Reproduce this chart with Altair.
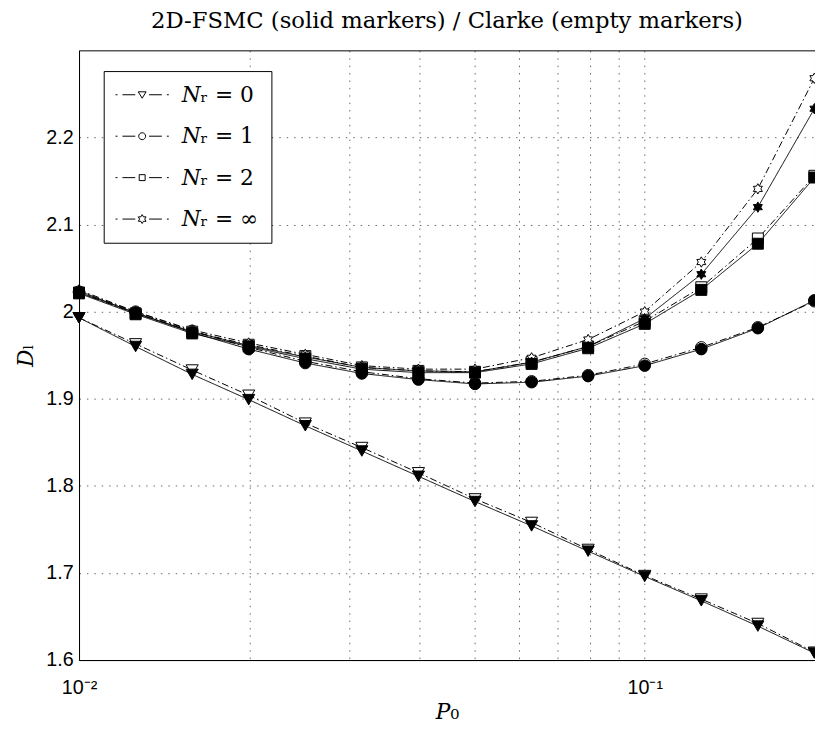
import altair as alt
import pandas as pd

# ---------------- data ----------------
P0 = [0.01, 0.01259, 0.01585, 0.01995, 0.02512, 0.03162, 0.03981,
      0.05012, 0.0631, 0.07943, 0.1, 0.1259, 0.1585, 0.1995]

NR_LABELS = ["𝑁ᵣ = 0", "𝑁ᵣ = 1", "𝑁ᵣ = 2", "𝑁ᵣ = ∞"]

# 2D-FSMC (solid markers, solid line)
fsmc_nr0 = [1.993, 1.960, 1.928, 1.899, 1.869, 1.840, 1.811, 1.782, 1.754, 1.725, 1.696, 1.668, 1.639, 1.608]
fsmc_nr1 = [2.022, 1.999, 1.976, 1.957, 1.941, 1.929, 1.922, 1.917, 1.919, 1.926, 1.938, 1.957, 1.981, 2.013]
fsmc_nr2 = [2.021, 1.997, 1.975, 1.960, 1.946, 1.934, 1.930, 1.930, 1.940, 1.958, 1.986, 2.025, 2.078, 2.154]
fsmc_inf = [2.024, 1.998, 1.977, 1.961, 1.948, 1.936, 1.932, 1.931, 1.942, 1.960, 1.992, 2.043, 2.120, 2.233]

# Clarke (empty markers, dash-dot line)
clarke_nr0 = [1.993, 1.963, 1.933, 1.904, 1.872, 1.844, 1.815, 1.785, 1.758, 1.727, 1.697, 1.670, 1.642, 1.609]
clarke_nr1 = [2.023, 2.000, 1.978, 1.959, 1.943, 1.931, 1.923, 1.918, 1.920, 1.927, 1.940, 1.959, 1.982, 2.012]
clarke_nr2 = [2.022, 1.998, 1.977, 1.962, 1.949, 1.936, 1.932, 1.931, 1.942, 1.960, 1.989, 2.028, 2.084, 2.156]
clarke_inf = [2.025, 2.000, 1.979, 1.964, 1.951, 1.938, 1.934, 1.934, 1.947, 1.968, 2.000, 2.057, 2.141, 2.268]

X_TICKS = [0.01, 0.02, 0.03, 0.04, 0.05, 0.06, 0.07, 0.08, 0.09, 0.1, 0.2]
Y_TICKS = [1.6, 1.7, 1.8, 1.9, 2.0, 2.1, 2.2]

TITLE = "2D-FSMC (solid markers) / Clarke (empty markers)"

# ---------------- table ----------------
rows = []
series = {
    "Clarke": [clarke_nr0, clarke_nr1, clarke_nr2, clarke_inf],
    "FSMC": [fsmc_nr0, fsmc_nr1, fsmc_nr2, fsmc_inf],
}
for model in ["Clarke", "FSMC"]:
    for lab, vals in zip(NR_LABELS, series[model]):
        for p, v in zip(P0, vals):
            rows.append({"P0": p, "Dl": v, "nr": lab, "model": model, "series": model + lab})
df = pd.DataFrame(rows)

# ---------------- marker shapes ----------------
STAR = ("M0,-1L0.289,-0.5L0.866,-0.5L0.577,0L0.866,0.5L0.289,0.5L0,1L-0.289,0.5"
        "L-0.866,0.5L-0.577,0L-0.866,-0.5L-0.289,-0.5Z")
DASHES = "M-27,0H-25M-20,0H-7M7,0H20M25,0H27"
LEG_PATHS = [
    DASHES + "M-4,-3L4,-3L0,3.5Z",
    DASHES + "M-3.5,0A3.5,3.5,0,1,0,3.5,0A3.5,3.5,0,1,0,-3.5,0Z",
    DASHES + "M-3,-3H3V3H-3Z",
    DASHES + ("M0,-4.5L1.3,-2.25L3.9,-2.25L2.6,0L3.9,2.25L1.3,2.25L0,4.5L-1.3,2.25"
              "L-3.9,2.25L-2.6,0L-3.9,-2.25L-1.3,-2.25Z"),
]

x_enc = alt.X(
    "P0:Q",
    scale=alt.Scale(type="log", domain=[0.01, 0.2], nice=False),
    axis=alt.Axis(
        values=X_TICKS,
        labelExpr="abs(datum.value - 0.01) < 1e-6 ? '10⁻²' : (abs(datum.value - 0.1) < 1e-6 ? '10⁻¹' : '')",
        title="𝑃₀",
        titleFont="DejaVu Serif",
        titleFontSize=22,
        titleFontWeight="normal",
        titlePadding=4,
        labelPadding=18,
        labelFlush=False,
    ),
)
y_enc = alt.Y(
    "Dl:Q",
    scale=alt.Scale(domain=[1.6, 2.3], nice=False, zero=False),
    axis=alt.Axis(
        values=Y_TICKS,
        labelExpr="format(datum.value, '~g')",
        title="𝐷ₗ",
        titleFont="DejaVu Serif",
        titleFontSize=22,
        titleFontWeight="normal",
        titlePadding=8,
        labelPadding=6,
    ),
)

base = alt.Chart(df)

lines = base.mark_line(color="black", strokeWidth=1).encode(
    x=x_enc,
    y=y_enc,
    detail="series:N",
    order="P0:Q",
    strokeDash=alt.StrokeDash(
        "model:N",
        scale=alt.Scale(domain=["FSMC", "Clarke"], range=[[1, 0], [7, 3, 1.5, 3]]),
        legend=None,
    ),
)

points = base.mark_point(filled=True, opacity=1, stroke="black", strokeWidth=1).encode(
    x=x_enc,
    y=y_enc,
    shape=alt.Shape(
        "nr:N",
        scale=alt.Scale(domain=NR_LABELS, range=["triangle-down", "circle", "square", STAR]),
        legend=None,
    ),
    size=alt.Size(
        "nr:N",
        scale=alt.Scale(domain=NR_LABELS, range=[150, 110, 85, 121]),
        legend=None,
    ),
    fill=alt.Fill(
        "model:N",
        scale=alt.Scale(domain=["FSMC", "Clarke"], range=["black", "white"]),
        legend=None,
    ),
)

# legend-only layer: its marks are pushed outside the clipped plot area
legend_layer = base.transform_filter(alt.datum.model == "FSMC").mark_point(
    filled=False, color="black", strokeWidth=1, opacity=1, size=4,
    clip=True, yOffset=-3000,
).encode(
    x=x_enc,
    y=y_enc,
    shape=alt.Shape(
        "nr:N",
        scale=alt.Scale(domain=NR_LABELS, range=LEG_PATHS),
        legend=alt.Legend(
            title=None,
            orient="none",
            legendX=25,
            legendY=21,
            direction="vertical",
            symbolSize=4,
            symbolOffset=15,
            labelOffset=29,
            symbolStrokeWidth=1,
            symbolOpacity=1,
            symbolStrokeColor="black",
            labelFont="DejaVu Serif",
            labelFontSize=22,
            labelColor="black",
            labelLimit=400,
            rowPadding=20,
            padding=13,
            strokeColor="black",
            fillColor="white",
            cornerRadius=0,
        ),
    ),
)

chart = (
    alt.layer(lines, points, legend_layer)
    .resolve_scale(shape="independent")
    .properties(
        width=746,
        height=618,
        background="white",
        autosize=alt.AutoSizeParams(type="none"),
        padding={"left": 72, "top": 38, "right": 0, "bottom": 69},
        title=alt.TitleParams(
            TITLE, font="DejaVu Serif", fontSize=23, fontWeight="normal",
            anchor="middle", color="black", offset=18,
        ),
    )
    .configure_view(stroke="black", strokeWidth=1)
    .configure_axis(
        labelFont="Liberation Sans",
        labelFontSize=20,
        labelColor="black",
        domainColor="black",
        domainWidth=1,
        ticks=False,
        tickSize=0,
        grid=True,
        gridColor="black",
        gridDash=[1.5, 6],
        gridOpacity=0.6,
        gridWidth=1,
        titleColor="black",
    )
)

chart.save("out.html", embed_options={"renderer": "svg", "actions": False})
